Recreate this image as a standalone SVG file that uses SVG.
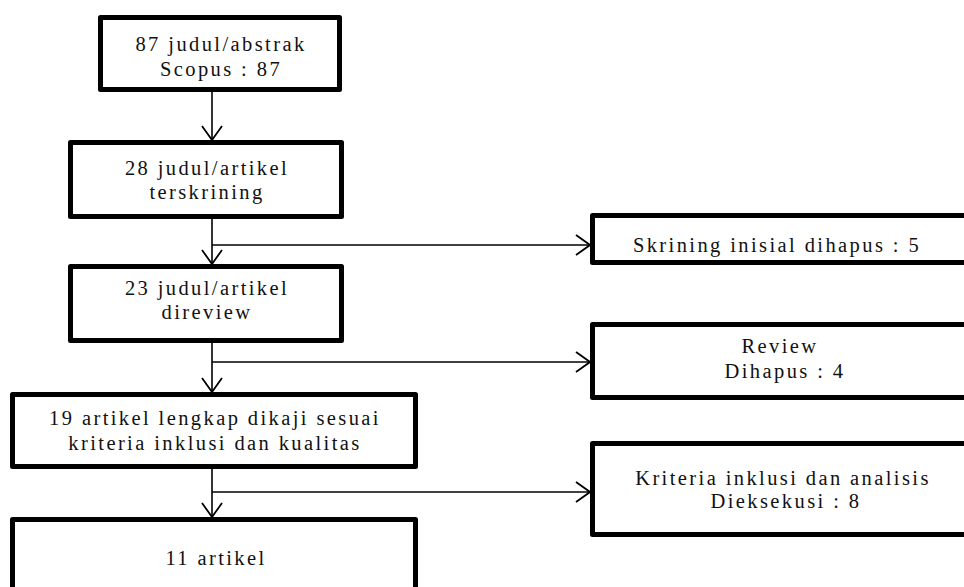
<svg xmlns="http://www.w3.org/2000/svg" width="964" height="587" viewBox="0 0 964 587">
<style>
.box{fill:#fff;stroke:#000;stroke-width:5;stroke-linejoin:round}
.t{font-family:"Liberation Serif","Times New Roman",Times,serif;font-size:20.5px;letter-spacing:2.4px;fill:#111;text-anchor:middle}
.c{fill:none;stroke:#000;stroke-width:1.6}
</style>
<defs>
<marker id="ah" markerUnits="userSpaceOnUse" markerWidth="16" markerHeight="24" viewBox="0 0 16 24" refX="15" refY="12" orient="auto">
<path d="M1,2 L15,12 L1,22" fill="none" stroke="#000" stroke-width="1.8"/>
</marker>
</defs>
<rect x="0" y="0" width="964" height="587" fill="#fff"/>
<g id="connectors">
<line class="c" x1="212" y1="92" x2="212" y2="140" marker-end="url(#ah)"/>
<line class="c" x1="212" y1="219" x2="212" y2="264" marker-end="url(#ah)"/>
<line class="c" x1="212" y1="245" x2="590" y2="245" marker-end="url(#ah)"/>
<line class="c" x1="212" y1="343" x2="212" y2="392" marker-end="url(#ah)"/>
<line class="c" x1="212" y1="362" x2="590" y2="362" marker-end="url(#ah)"/>
<line class="c" x1="212" y1="469" x2="212" y2="517" marker-end="url(#ah)"/>
<line class="c" x1="212" y1="492" x2="590" y2="492" marker-end="url(#ah)"/>
</g>
<g id="n1">
<rect class="box" x="100.5" y="17.5" width="239" height="72"/>
<text class="t" x="221" y="51">87 judul/abstrak</text>
<text class="t" x="221" y="76">Scopus : 87</text>
</g>
<g id="n2">
<rect class="box" x="70.5" y="142.5" width="271" height="74"/>
<text class="t" x="207" y="175">28 judul/artikel</text>
<text class="t" x="207" y="199">terskrining</text>
</g>
<g id="n3">
<rect class="box" x="70.5" y="266.5" width="271" height="74"/>
<text class="t" x="207" y="295">23 judul/artikel</text>
<text class="t" x="207" y="319">direview</text>
</g>
<g id="n4">
<rect class="box" x="12.5" y="394.5" width="403" height="72"/>
<text class="t" x="215" y="425">19 artikel lengkap dikaji sesuai</text>
<text class="t" x="215" y="450">kriteria inklusi dan kualitas</text>
</g>
<g id="n5">
<rect class="box" x="12.5" y="519.5" width="403" height="90"/>
<text class="t" x="216" y="565">11 artikel</text>
</g>
<g id="n6">
<rect class="box" x="592.5" y="215.5" width="380" height="47"/>
<text class="t" x="777" y="252">Skrining inisial dihapus : 5</text>
</g>
<g id="n7">
<rect class="box" x="592.5" y="324.5" width="380" height="73"/>
<text class="t" x="780" y="353">Review</text>
<text class="t" x="785" y="378">Dihapus : 4</text>
</g>
<g id="n8">
<rect class="box" x="592.5" y="443.5" width="380" height="91"/>
<text class="t" x="783" y="485">Kriteria inklusi dan analisis</text>
<text class="t" x="786" y="508">Dieksekusi : 8</text>
</g>
</svg>
